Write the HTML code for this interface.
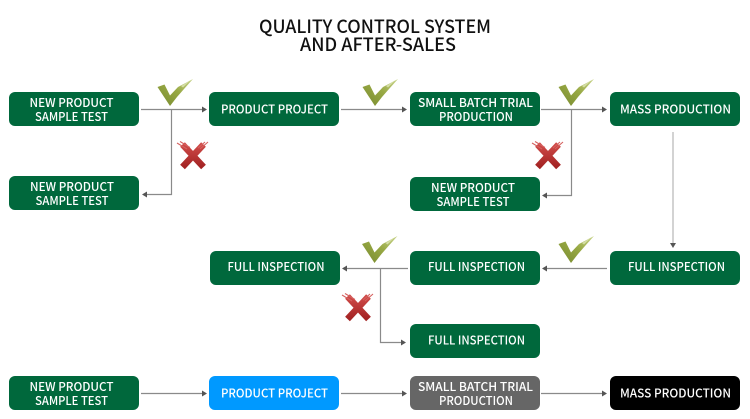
<!DOCTYPE html>
<html><head><meta charset="utf-8"><style>
html,body{margin:0;padding:0;background:#fff;width:750px;height:419px;overflow:hidden}
svg{display:block}
.t{font-family:"Noto Sans CJK SC","Liberation Sans",sans-serif;font-weight:500;font-size:12px;fill:#fff}
.h{font-family:"Noto Sans CJK SC","Liberation Sans",sans-serif;font-size:18px;font-weight:500;fill:#111}
.l{stroke:#8a8a8a;stroke-width:1.2;fill:none}
.a{fill:#555}
</style></head><body>
<svg width="750" height="419" viewBox="0 0 750 419" xmlns="http://www.w3.org/2000/svg">
<defs>
<linearGradient id="cg" x1="0" y1="1" x2="1" y2="0"><stop offset="0" stop-color="#76892f"/><stop offset=".55" stop-color="#98a944"/><stop offset="1" stop-color="#c9d58c"/></linearGradient>
<linearGradient id="xg" x1="0" y1="0" x2="0" y2="1"><stop offset="0" stop-color="#cf4a48"/><stop offset="1" stop-color="#a32323"/></linearGradient>
<g id="chk">
<polygon fill="url(#cg)" points="-12.5,-19 -5.5,-21.5 0,-10.5 8,-19 23,-27 14,-17 7,-9 0,0"/>
<polygon fill="#d5dea6" points="11,-20 20,-25.5 13,-18.5"/>
</g>
<g id="x">
<path d="M-10.5,-10.5 L10.5,12 M10.5,-10.5 L-10.5,12" stroke="url(#xg)" stroke-width="6.5" fill="none" stroke-linecap="butt"/>
<path d="M-16,-12 L-6,-6 M-13,-13.5 L-3,-7.5 M15,-13 L7,-6 M12,-13 L5,-7" stroke="#d5615f" stroke-width="1.1" fill="none"/>
</g>
<g id="tip-r"><polygon class="a" points="0,0 -5,-3 -5,3"/></g>
<g id="tip-l"><polygon class="a" points="0,0 5,-3 5,3"/></g>
</defs>

<text class="h" x="259" y="33" textLength="232" lengthAdjust="spacingAndGlyphs">QUALITY CONTROL SYSTEM</text>
<text class="h" x="300" y="51" textLength="156" lengthAdjust="spacingAndGlyphs">AND AFTER-SALES</text>

<!-- connectors -->
<path class="l" d="M141,109.5H203M171.5,109.5V194.5H146"/>
<use href="#tip-r" x="207" y="109.5"/><use href="#tip-l" x="142" y="194.5"/>
<path class="l" d="M341,109.5H403"/><use href="#tip-r" x="407" y="109.5"/>
<path class="l" d="M541,109.5H603M571.5,109.5V195.5H546"/>
<use href="#tip-r" x="607" y="109.5"/><use href="#tip-l" x="542" y="195.5"/>
<path d="M673,132V243" stroke="#b5b5b5" stroke-width="1.2" fill="none"/>
<polygon class="a" points="673,248 670,243 676,243"/>
<path class="l" d="M607,268.5H546"/><use href="#tip-l" x="542" y="268.5"/>
<path class="l" d="M408,268.5H346M380.5,268.5V342.5H402"/>
<use href="#tip-l" x="342" y="268.5"/><use href="#tip-r" x="406" y="342.5"/>
<path class="l" d="M141,393.5H203M341,393.5H403M541,393.5H603"/>
<use href="#tip-r" x="207" y="393.5"/><use href="#tip-r" x="407" y="393.5"/><use href="#tip-r" x="607" y="393.5"/>

<!-- boxes -->
<g fill="#00683c">
<rect x="9" y="92" width="130" height="34" rx="6"/>
<rect x="209" y="92" width="130" height="34" rx="6"/>
<rect x="410" y="92" width="130" height="34" rx="6"/>
<rect x="610" y="92" width="130" height="34" rx="6"/>
<rect x="9" y="176" width="130" height="34" rx="6"/>
<rect x="410" y="177" width="130" height="34" rx="6"/>
<rect x="210" y="251" width="130" height="34" rx="6"/>
<rect x="410" y="251" width="130" height="34" rx="6"/>
<rect x="610" y="251" width="130" height="34" rx="6"/>
<rect x="410" y="324" width="130" height="34" rx="6"/>
<rect x="9" y="376" width="130" height="34" rx="6"/>
</g>
<rect x="209" y="376" width="130" height="34" rx="6" fill="#0099ff"/>
<rect x="410" y="376" width="130" height="34" rx="6" fill="#666666"/>
<rect x="610" y="376" width="130" height="34" rx="6" fill="#000000"/>

<!-- text -->
<text class="t" x="29.5" y="107" textLength="84" lengthAdjust="spacingAndGlyphs">NEW PRODUCT</text>
<text class="t" x="35" y="121" textLength="73" lengthAdjust="spacingAndGlyphs">SAMPLE TEST</text>
<text class="t" x="221" y="113.5" textLength="107" lengthAdjust="spacingAndGlyphs">PRODUCT PROJECT</text>
<text class="t" x="418" y="107" textLength="115" lengthAdjust="spacingAndGlyphs">SMALL BATCH TRIAL</text>
<text class="t" x="439" y="121" textLength="74" lengthAdjust="spacingAndGlyphs">PRODUCTION</text>
<text class="t" x="620" y="113.5" textLength="111" lengthAdjust="spacingAndGlyphs">MASS PRODUCTION</text>
<text class="t" x="30" y="191" textLength="84" lengthAdjust="spacingAndGlyphs">NEW PRODUCT</text>
<text class="t" x="35.5" y="205" textLength="73" lengthAdjust="spacingAndGlyphs">SAMPLE TEST</text>
<text class="t" x="431" y="192" textLength="84" lengthAdjust="spacingAndGlyphs">NEW PRODUCT</text>
<text class="t" x="436.5" y="206" textLength="73" lengthAdjust="spacingAndGlyphs">SAMPLE TEST</text>
<text class="t" x="227.5" y="271" textLength="97" lengthAdjust="spacingAndGlyphs">FULL INSPECTION</text>
<text class="t" x="428" y="271" textLength="97" lengthAdjust="spacingAndGlyphs">FULL INSPECTION</text>
<text class="t" x="628" y="271" textLength="97" lengthAdjust="spacingAndGlyphs">FULL INSPECTION</text>
<text class="t" x="428" y="344.5" textLength="97" lengthAdjust="spacingAndGlyphs">FULL INSPECTION</text>
<text class="t" x="29.5" y="391" textLength="84" lengthAdjust="spacingAndGlyphs">NEW PRODUCT</text>
<text class="t" x="35" y="405" textLength="73" lengthAdjust="spacingAndGlyphs">SAMPLE TEST</text>
<text class="t" x="221" y="397.5" textLength="107" lengthAdjust="spacingAndGlyphs">PRODUCT PROJECT</text>
<text class="t" x="418" y="391" textLength="115" lengthAdjust="spacingAndGlyphs">SMALL BATCH TRIAL</text>
<text class="t" x="439" y="405" textLength="74" lengthAdjust="spacingAndGlyphs">PRODUCTION</text>
<text class="t" x="620" y="397.5" textLength="111" lengthAdjust="spacingAndGlyphs">MASS PRODUCTION</text>

<!-- marks -->
<use href="#chk" x="170" y="106"/>
<use href="#chk" x="375" y="106"/>
<use href="#chk" x="571" y="106"/>
<use href="#chk" x="374.5" y="263"/>
<use href="#chk" x="571" y="263"/>
<use href="#x" x="193" y="155"/>
<use href="#x" x="548" y="155"/>
<use href="#x" x="358" y="307"/>
</svg>
</body></html>
